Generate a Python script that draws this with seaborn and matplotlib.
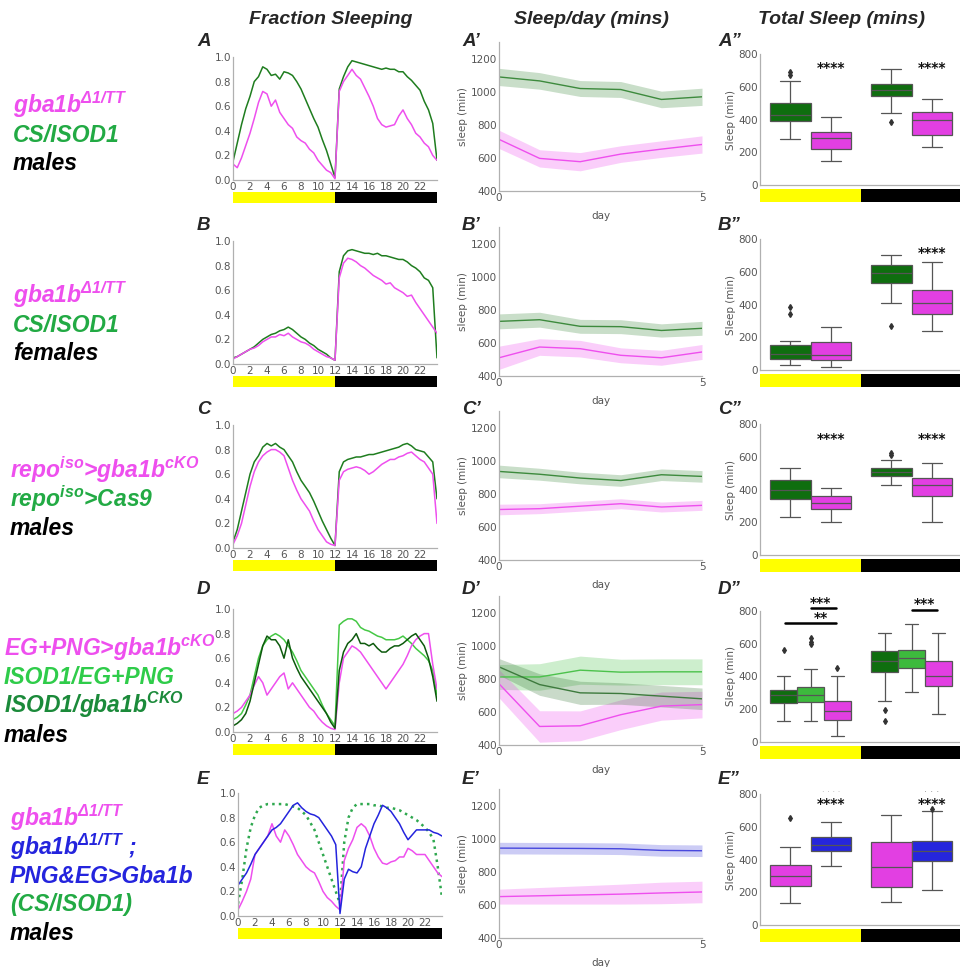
import numpy as np
import pandas as pd
import matplotlib
matplotlib.use('Agg')
import matplotlib.pyplot as plt
import seaborn as sns

sns.set_style('white')
plt.rcParams['font.family'] = ['DejaVu Sans']
plt.rcParams['mathtext.fontset'] = 'custom'
plt.rcParams['mathtext.rm'] = 'Liberation Sans:bold:italic'
plt.rcParams['mathtext.it'] = 'Liberation Sans:bold:italic'
plt.rcParams['mathtext.bf'] = 'Liberation Sans:bold:italic'

# ---------------- data ----------------
hours = np.arange(0, 24.5, 0.5)

# fraction sleeping (every 30 min)
fracA_green = [.15, .3, .45, .58, .68, .8, .84, .92, .9, .85, .86, .82, .88, .87, .85, .8, .74, .66, .58, .5, .43, .33, .24, .13, .02,
               .74, .84, .92, .97, .96, .95, .94, .93, .92, .91, .9, .91, .9, .9, .88, .88, .84, .81, .77, .73, .64, .57, .46, .16]
fracA_mag = [.13, .1, .18, .28, .38, .5, .63, .72, .7, .6, .65, .55, .5, .45, .42, .35, .32, .3, .25, .22, .16, .12, .08, .06, .01,
             .72, .8, .85, .9, .85, .82, .75, .68, .6, .5, .45, .43, .44, .45, .52, .57, .5, .45, .38, .35, .3, .27, .2, .16]
fracB_green = [.05, .06, .08, .1, .12, .14, .17, .2, .22, .24, .25, .27, .28, .3, .28, .25, .22, .2, .17, .15, .12, .1, .08, .05, .03,
               .75, .88, .92, .93, .92, .91, .9, .9, .89, .9, .88, .88, .87, .86, .85, .85, .83, .8, .78, .75, .7, .68, .62, .05]
fracB_mag = [.04, .06, .08, .1, .12, .13, .15, .18, .2, .22, .22, .24, .23, .25, .22, .2, .18, .17, .15, .12, .1, .08, .06, .05, .03,
             .7, .82, .86, .85, .83, .8, .78, .75, .72, .7, .68, .65, .66, .62, .6, .58, .55, .56, .5, .45, .4, .35, .3, .25]
fracC_green = [.05, .15, .3, .45, .6, .7, .75, .82, .85, .83, .85, .82, .8, .75, .7, .62, .55, .5, .45, .38, .3, .22, .15, .08, .02,
               .62, .7, .72, .73, .74, .74, .75, .76, .76, .77, .78, .79, .8, .81, .82, .84, .85, .83, .8, .79, .78, .74, .7, .4]
fracC_mag = [.03, .1, .2, .35, .5, .62, .7, .75, .78, .8, .8, .78, .75, .65, .55, .47, .4, .35, .3, .22, .15, .1, .05, .03, .02,
             .55, .62, .64, .65, .66, .65, .63, .6, .62, .65, .68, .7, .72, .72, .74, .75, .77, .78, .75, .72, .7, .65, .6, .2]
fracD_dark = [.05, .07, .1, .15, .25, .4, .55, .7, .78, .75, .75, .7, .6, .75, .6, .52, .45, .4, .35, .3, .25, .2, .15, .08, .03,
              .5, .65, .72, .75, .8, .72, .72, .7, .72, .68, .65, .65, .68, .7, .7, .72, .75, .78, .8, .75, .7, .6, .45, .25]
fracD_light = [.1, .12, .15, .22, .3, .45, .6, .7, .75, .78, .8, .78, .75, .7, .65, .58, .5, .45, .4, .35, .3, .22, .15, .1, .05,
               .87, .9, .92, .92, .9, .85, .83, .82, .8, .78, .77, .75, .75, .75, .76, .78, .75, .72, .68, .65, .62, .58, .5, .3]
fracD_mag = [.15, .17, .2, .25, .3, .38, .45, .4, .3, .35, .4, .45, .48, .35, .4, .35, .3, .25, .2, .17, .12, .08, .05, .03, .02,
             .4, .6, .65, .7, .68, .65, .6, .55, .5, .45, .4, .35, .4, .45, .5, .55, .62, .7, .75, .78, .8, .8, .55, .35]
fracE_blue = [.25, .3, .35, .42, .5, .55, .6, .65, .7, .72, .75, .8, .85, .9, .92, .88, .85, .83, .82, .8, .75, .7, .65, .58, .02,
              .3, .38, .36, .35, .4, .55, .65, .75, .82, .9, .88, .85, .8, .75, .68, .62, .66, .7, .7, .7, .7, .68, .67, .65]
fracE_mag = [.05, .12, .2, .3, .5, .55, .6, .65, .75, .65, .6, .7, .65, .58, .5, .45, .4, .37, .35, .28, .2, .15, .12, .08, .05,
             .45, .55, .62, .72, .75, .72, .65, .55, .48, .43, .42, .44, .45, .48, .48, .55, .53, .5, .5, .5, .45, .4, .35, .32]
fracE_ctrl = [.1, .3, .55, .72, .82, .88, .9, .91, .91, .91, .91, .91, .9, .89, .88, .85, .82, .76, .7, .6, .5, .4, .3, .2, .1,
              .6, .8, .88, .91, .91, .91, .91, .9, .9, .89, .88, .88, .87, .86, .84, .82, .8, .78, .75, .72, .68, .62, .4, .15]

# sleep per day (mean, half-width of band)
days = [0, 1, 2, 3, 4, 5]
dayA_green = [1089, 1065, 1019, 1013, 953, 969]
dayA_green_err = [52, 50, 48, 48, 50, 52]
dayA_mag = [712, 597, 577, 623, 653, 681]
dayA_mag_err = [55, 52, 55, 50, 50, 52]
dayB_green = [730, 740, 700, 698, 675, 688]
dayB_green_err = [45, 45, 42, 42, 40, 42]
dayB_mag = [510, 575, 565, 525, 510, 545]
dayB_mag_err = [70, 50, 50, 45, 45, 45]
dayC_green = [935, 918, 895, 880, 915, 905]
dayC_green_err = [38, 36, 35, 35, 35, 35]
dayC_mag = [705, 710, 725, 740, 720, 730]
dayC_mag_err = [32, 30, 30, 30, 30, 30]
dayD_dark = [872, 765, 715, 711, 695, 679]
dayD_dark_err = [50, 65, 70, 65, 65, 65]
dayD_light = [811, 811, 852, 840, 842, 842]
dayD_light_err = [75, 80, 85, 78, 78, 78]
dayD_mag = [770, 512, 516, 583, 635, 644]
dayD_mag_err = [85, 95, 90, 90, 85, 80]
dayE_blue = [943, 942, 941, 939, 929, 927]
dayE_blue_err = [35, 35, 35, 35, 35, 35]
dayE_mag = [650, 655, 660, 665, 672, 678]
dayE_mag_err = [45, 50, 55, 60, 65, 65]

# total sleep per fly, light (day) and dark (night) period
boxA_day_green = [279, 320, 350, 375, 392, 400, 410, 420, 427, 440, 460, 480, 499, 540, 635, 672, 688]
boxA_day_mag = [148, 170, 190, 205, 220, 240, 260, 275, 285, 295, 305, 315, 321, 340, 370, 395, 417]
boxA_night_green = [387, 440, 490, 520, 545, 555, 565, 572, 578, 590, 600, 610, 617, 640, 660, 690, 706]
boxA_night_mag = [230, 250, 270, 290, 307, 330, 350, 380, 397, 410, 425, 440, 448, 470, 490, 505, 523]
boxB_day_green = [30, 40, 50, 60, 70, 80, 90, 95, 100, 110, 125, 140, 150, 165, 180, 340, 385]
boxB_day_mag = [20, 35, 45, 55, 60, 70, 80, 85, 90, 110, 135, 155, 170, 190, 220, 240, 260]
boxB_night_green = [270, 410, 450, 500, 530, 550, 565, 580, 590, 600, 615, 630, 640, 660, 680, 690, 700]
boxB_night_mag = [240, 270, 300, 320, 340, 360, 380, 400, 410, 430, 450, 470, 490, 540, 590, 630, 660]
boxC_day_green = [230, 280, 310, 330, 340, 360, 375, 390, 400, 415, 430, 450, 460, 480, 500, 515, 530]
boxC_day_mag = [200, 230, 250, 270, 280, 290, 300, 310, 320, 330, 340, 350, 360, 375, 390, 400, 410]
boxC_night_green = [430, 445, 455, 470, 480, 488, 495, 500, 505, 510, 515, 522, 530, 545, 580, 610, 625]
boxC_night_mag = [200, 260, 310, 340, 360, 380, 400, 415, 425, 435, 445, 458, 470, 490, 520, 545, 560]
boxD_day_dark = [128, 170, 200, 220, 237, 255, 270, 280, 287, 295, 302, 310, 318, 340, 370, 405, 561]
boxD_day_light = [128, 180, 210, 230, 243, 260, 272, 280, 287, 300, 315, 328, 338, 445, 597, 613, 634]
boxD_day_mag = [34, 80, 105, 120, 136, 155, 170, 182, 192, 205, 220, 238, 253, 300, 350, 405, 451]
boxD_night_dark = [128, 196, 253, 380, 429, 450, 465, 480, 492, 505, 520, 540, 553, 580, 610, 640, 668]
boxD_night_light = [308, 370, 410, 430, 449, 470, 490, 502, 512, 522, 535, 548, 561, 590, 630, 680, 723]
boxD_night_mag = [172, 240, 290, 320, 344, 360, 380, 395, 405, 420, 445, 470, 492, 530, 580, 630, 668]
boxE_day_mag = [132, 170, 200, 220, 240, 260, 275, 290, 299, 315, 335, 350, 366, 400, 440, 474, 655]
boxE_day_blue = [362, 400, 425, 440, 452, 462, 472, 480, 488, 498, 510, 522, 535, 560, 590, 610, 631]
boxE_night_mag = [142, 170, 195, 215, 230, 260, 290, 320, 352, 390, 430, 470, 509, 560, 610, 645, 672]
boxE_night_blue = [213, 290, 340, 370, 391, 410, 425, 440, 452, 465, 480, 500, 515, 560, 620, 698, 708]

# ---------------- colours ----------------
MAG = '#ee4fee'
GREEN = '#1f7d1f'
DKGREEN = '#0d5a0d'
LTGREEN = '#45c845'
BLUE = '#2424dd'
BOXMAG = '#e23fe2'
BOXGREEN = '#0f6e0f'
BOXLT = '#3dba3d'
BOXBLUE = '#2626dc'
TICKC = '#555555'
SPINEC = '#b0b0b0'

W, H = 960, 967
fig = plt.figure(figsize=(9.6, 9.67), dpi=100)


def px(x0, y0, x1, y1):
    return [x0 / W, 1 - y1 / H, (x1 - x0) / W, (y1 - y0) / H]


def style(ax):
    sns.despine(ax=ax)
    for s in ['left', 'bottom']:
        ax.spines[s].set_color(SPINEC)
        ax.spines[s].set_linewidth(0.9)
    ax.tick_params(labelsize=7.5, labelcolor=TICKC, length=0, pad=1.5)


def daybar(x0, x1, y0, y1, lo, mid, hi):
    b = fig.add_axes(px(x0, y0, x1, y1))
    b.axvspan(lo, mid, color='#ffff00', lw=0)
    b.axvspan(mid, hi, color='black', lw=0)
    b.set_xlim(lo, hi)
    b.axis('off')


lab = dict(family='Liberation Sans', fontweight='bold', fontstyle='italic')

# column titles
fig.text(331 / W, 1 - 20 / H, 'Fraction Sleeping', ha='center', va='center', fontsize=14, **lab)
fig.text(591 / W, 1 - 20 / H, 'Sleep/day (mins)', ha='center', va='center', fontsize=14, **lab)
fig.text(842 / W, 1 - 20 / H, 'Total Sleep (mins)', ha='center', va='center', fontsize=14, **lab)

# genotype labels on the left
left_labels = [
    [('gba1b$^{Δ1/TT}$', MAG), ('CS/ISOD1', '#22aa44'), ('males', 'black')],
    [('gba1b$^{Δ1/TT}$', MAG), ('CS/ISOD1', '#22aa44'), ('females', 'black')],
    [('repo$^{iso}$>gba1b$^{cKO}$', MAG), ('repo$^{iso}$>Cas9', '#22aa44'), ('males', 'black')],
    [('EG+PNG>gba1b$^{cKO}$', MAG), ('ISOD1/EG+PNG', '#2fcc4a'), ('ISOD1/gba1b$^{CKO}$', '#1b8a3a'), ('males', 'black')],
    [('gba1b$^{Δ1/TT}$', MAG), ('gba1b$^{Δ1/TT}$ ;', BLUE), ('PNG&EG>Gba1b', BLUE), ('(CS/ISOD1)', '#22aa44'), ('males', 'black')],
]
label_first_baseline = [113, 303, 478, 656, 826]
label_x = [13, 13, 10, 4, 10]
for r, lines in enumerate(left_labels):
    for k, (s, c) in enumerate(lines):
        y = label_first_baseline[r] + k * 28.5
        fig.text(label_x[r] / W, 1 - y / H, s, color=c, fontsize=16.5, va='baseline', ha='left', **lab)

# ---------------- column 1: fraction sleeping ----------------
frac_rows = [
    [(fracA_green, GREEN, '-'), (fracA_mag, MAG, '-')],
    [(fracB_green, GREEN, '-'), (fracB_mag, MAG, '-')],
    [(fracC_green, GREEN, '-'), (fracC_mag, MAG, '-')],
    [(fracD_light, LTGREEN, '-'), (fracD_mag, MAG, '-'), (fracD_dark, DKGREEN, '-')],
    [(fracE_ctrl, '#2fa84f', ':'), (fracE_mag, MAG, '-'), (fracE_blue, BLUE, '-')],
]
frac_tops = [57, 241, 425, 609, 793]
frac_left = [233, 233, 233, 233, 238]
for i, curves in enumerate(frac_rows):
    top = frac_tops[i]
    x0 = frac_left[i]
    ax = fig.add_axes(px(x0, top, x0 + 204, top + 123))
    for vals, c, ls in curves:
        sns.lineplot(x=hours, y=vals, color=c, linestyle=ls,
                     lw=1.8 if ls == ':' else 1.1, ax=ax)
    ax.set_xlim(0, 24)
    ax.set_ylim(0, 1)
    ax.set_xticks(range(0, 24, 2))
    ax.set_yticks([0, .2, .4, .6, .8, 1.0])
    ax.set_yticklabels(['0.0', '0.2', '0.4', '0.6', '0.8', '1.0'])
    style(ax)
    daybar(x0, x0 + 204, top + 135, top + 146, 0, 12, 24)

# ---------------- column 2: sleep per day ----------------
day_rows = [
    [(dayA_green, dayA_green_err, '#3d8a3d', '#3d8a3d'), (dayA_mag, dayA_mag_err, MAG, MAG)],
    [(dayB_green, dayB_green_err, '#3d8a3d', '#3d8a3d'), (dayB_mag, dayB_mag_err, MAG, MAG)],
    [(dayC_green, dayC_green_err, '#3d8a3d', '#3d8a3d'), (dayC_mag, dayC_mag_err, MAG, MAG)],
    [(dayD_light, dayD_light_err, '#4cc24c', '#4cc24c'), (dayD_mag, dayD_mag_err, MAG, MAG),
     (dayD_dark, dayD_dark_err, '#3d7a3d', '#3d7a3d')],
    [(dayE_blue, dayE_blue_err, '#4848dd', '#4848dd'), (dayE_mag, dayE_mag_err, MAG, MAG)],
]
day_bottoms = [191, 376, 560, 745, 938]
for i, series in enumerate(day_rows):
    bot = day_bottoms[i]
    ax = fig.add_axes(px(499, bot - 149, 702, bot))
    for mean, err, lc, fc in series:
        lo = [m - e for m, e in zip(mean, err)]
        hi = [m + e for m, e in zip(mean, err)]
        ax.fill_between(days, lo, hi, color=fc, alpha=0.28, lw=0)
        sns.lineplot(x=days, y=mean, color=lc, lw=1.0, ax=ax)
    ax.set_xlim(0, 5)
    ax.set_ylim(400, 1300)
    ax.set_xticks([0, 5])
    ax.set_yticks([400, 600, 800, 1000, 1200])
    ax.set_ylabel('sleep (min)', fontsize=7.5, color=TICKC, labelpad=2)
    ax.set_xlabel('day', fontsize=7.5, color=TICKC, labelpad=6)
    style(ax)

# ---------------- column 3: total sleep boxplots ----------------
box_rows = [
    ([('day', 'ctrl', boxA_day_green), ('day', 'mut', boxA_day_mag),
      ('night', 'ctrl', boxA_night_green), ('night', 'mut', boxA_night_mag)],
     ['ctrl', 'mut'], [BOXGREEN, BOXMAG]),
    ([('day', 'ctrl', boxB_day_green), ('day', 'mut', boxB_day_mag),
      ('night', 'ctrl', boxB_night_green), ('night', 'mut', boxB_night_mag)],
     ['ctrl', 'mut'], [BOXGREEN, BOXMAG]),
    ([('day', 'ctrl', boxC_day_green), ('day', 'mut', boxC_day_mag),
      ('night', 'ctrl', boxC_night_green), ('night', 'mut', boxC_night_mag)],
     ['ctrl', 'mut'], [BOXGREEN, BOXMAG]),
    ([('day', 'ctrl1', boxD_day_dark), ('day', 'ctrl2', boxD_day_light), ('day', 'mut', boxD_day_mag),
      ('night', 'ctrl1', boxD_night_dark), ('night', 'ctrl2', boxD_night_light), ('night', 'mut', boxD_night_mag)],
     ['ctrl1', 'ctrl2', 'mut'], [BOXGREEN, BOXLT, BOXMAG]),
    ([('day', 'mut', boxE_day_mag), ('day', 'rescue', boxE_day_blue),
      ('night', 'mut', boxE_night_mag), ('night', 'rescue', boxE_night_blue)],
     ['mut', 'rescue'], [BOXMAG, BOXBLUE]),
]
box_bottoms = [185, 370, 555, 742, 925]
stars = [
    [(0.2, 712, '****'), (1.2, 712, '****')],
    [(1.2, 715, '****')],
    [(0.2, 710, '****'), (1.2, 710, '****')],
    [(0.1, 850, '***'), (0.1, 760, '**'), (1.13, 840, '***')],
    [(0.2, 740, '****'), (1.2, 740, '****')],
]
for i, (groups, order, pal) in enumerate(box_rows):
    bot = box_bottoms[i]
    ax = fig.add_axes(px(760, bot - 131, 962, bot))
    rows = []
    for period, grp, vals in groups:
        for v in vals:
            rows.append((period, grp, v))
    df = pd.DataFrame(rows, columns=['period', 'group', 'sleep'])
    sns.boxplot(data=df, x='period', y='sleep', hue='group', hue_order=order,
                order=['day', 'night'], palette=pal, saturation=1, width=0.8, gap=0,
                linecolor='#555555', linewidth=0.9, legend=False, ax=ax,
                flierprops=dict(marker='d', markersize=3, markerfacecolor='#333333',
                                markeredgecolor='#333333'))
    ax.set_xlim(-0.5, 1.5)
    ax.set_ylim(0, 800)
    ax.set_yticks([0, 200, 400, 600, 800])
    ax.set_xticks([])
    ax.set_xlabel('')
    ax.set_ylabel('Sleep (min)', fontsize=7.5, color=TICKC, labelpad=2)
    style(ax)
    for sx, sy, s in stars[i]:
        ax.text(sx, sy, s, ha='center', va='center', fontsize=10, fontweight='bold',
                color='#111111', clip_on=False)
    if i == 3:
        ax.plot([-0.0, 0.25], [816, 816], color='black', lw=1.8, clip_on=False)
        ax.plot([-0.25, 0.25], [725, 725], color='black', lw=1.8, clip_on=False)
        ax.plot([1.0, 1.25], [804, 804], color='black', lw=1.8, clip_on=False)
    if i == 4:
        ax.text(0.2, 812, '· · · ·', ha='center', va='center', fontsize=6, color='#aaaaaa', clip_on=False)
        ax.text(1.2, 815, '· · ·', ha='center', va='center', fontsize=7, color='#999999', clip_on=False)
    daybar(760, 962, bot + 4, bot + 17, -0.5, 0.5, 1.5)

# panel letters
panel_y = [42, 226, 410, 590, 779]
for r, letter in enumerate('ABCDE'):
    y = 1 - panel_y[r] / H
    fig.text(197 / W, y, letter, ha='left', va='center', fontsize=13.5, **lab)
    fig.text(462 / W, y, letter + '\u2019', ha='left', va='center', fontsize=13.5, **lab)
    fig.text(718 / W, y, letter + '\u201d', ha='left', va='center', fontsize=13.5, **lab)

fig.savefig('out.png', dpi=100)
